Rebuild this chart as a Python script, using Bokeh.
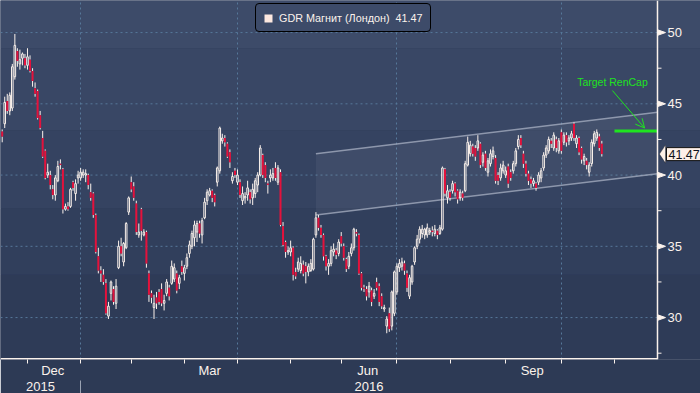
import pandas as pd
from bokeh.plotting import figure
from bokeh.models import (ColumnDataSource, FixedTicker, Range1d, Label, LinearAxis,
                          Legend, LegendItem, Arrow, OpenHead, PolyAnnotation)
from bokeh.embed import file_html
from bokeh.resources import INLINE

# ---------------- data ----------------
first_day = "2015-11-17"
last_day = "2016-11-30"
uk_holidays = ["2015-12-25", "2015-12-28", "2016-01-01", "2016-03-25", "2016-03-28",
               "2016-05-02", "2016-05-30", "2016-08-29"]

opens = [
    43.05, 43.6, 45.2, 44.5, 44.7, 46.9, 48.7, 47.8, 48.2, 48.2,
    47.7, 48.1, 47.3, 46.1, 45.9, 44.2, 42.6, 41.7, 40.0, 40.0,
    39.0, 38.6, 39.6, 40.8, 40.4, 37.6, 37.8, 37.8, 39.5, 38.7,
    39.8, 39.8, 40.0, 40.0, 40.0, 38.8, 38.7, 37.2, 34.3, 33.3,
    33.0, 32.4, 30.1, 31.7, 32.0, 31.0, 33.5, 35.0, 33.9, 34.9,
    37.4, 39.5, 39.2, 38.0, 35.8, 37.6, 35.8, 36.0, 33.1, 31.7,
    30.7, 31.4, 31.8, 32.0, 31.0, 31.7, 32.1, 32.4, 32.7, 33.1,
    32.4, 33.6, 33.1, 33.6, 34.5, 35.0, 35.6, 36.0, 36.6, 35.8,
    37.0, 38.2, 38.6, 38.9, 38.6, 39.5, 40.3, 42.4, 42.6, 42.2,
    41.6, 39.6, 40.3, 39.5, 39.5, 38.2, 38.4, 38.6, 38.8, 38.4,
    38.7, 39.3, 40.0, 41.4, 40.7, 39.4, 39.8, 39.8, 40.5, 39.5,
    40.2, 36.4, 35.3, 34.6, 34.6, 34.9, 33.2, 33.4, 33.3, 33.7,
    33.6, 33.2, 33.3, 33.4, 35.8, 37.0, 36.3, 35.8, 34.3, 33.6,
    33.8, 34.6, 34.7, 34.5, 35.7, 35.0, 34.1, 33.6, 34.5, 34.9,
    36.0, 35.8, 33.1, 32.1, 32.0, 31.8, 31.9, 31.5, 32.5, 32.2,
    31.5, 30.6, 29.4, 30.3, 29.4, 30.3, 31.8, 33.5, 33.6, 33.8,
    33.1, 31.5, 32.5, 33.9, 35.0, 35.5, 35.9, 35.8, 35.8, 36.0,
    36.1, 35.9, 36.1, 35.9, 36.2, 40.4, 38.4, 38.8, 38.9, 39.4,
    38.9, 38.4, 38.7, 38.9, 40.7, 41.5, 42.0, 41.9, 41.9, 42.2,
    40.9, 41.5, 40.2, 40.8, 41.3, 41.2, 40.0, 39.8, 40.3, 40.0,
    40.6, 40.2, 40.3, 40.8, 42.0, 42.6, 41.5, 40.8, 40.1, 39.7,
    39.4, 39.4, 39.5, 39.8, 40.5, 41.4, 41.7, 42.4, 41.9, 42.5,
    41.7, 43.0, 42.3, 42.8, 42.4, 42.6, 43.6, 42.2, 42.6, 41.9,
    41.0, 41.0, 40.2, 40.8, 42.2, 42.6, 42.7, 42.2,
]
closes = [
    42.7, 45.1, 44.5, 45.6, 47.6, 49.1, 48.0, 48.1, 48.5, 47.7,
    48.3, 47.3, 46.6, 45.7, 44.0, 43.3, 41.3, 39.8, 40.2, 39.3,
    38.6, 39.8, 40.6, 40.7, 37.6, 37.8, 37.6, 39.0, 39.1, 39.4,
    40.0, 40.2, 40.2, 40.1, 39.3, 38.4, 37.2, 34.6, 33.3, 33.1,
    32.5, 30.3, 30.8, 32.5, 31.1, 32.2, 35.0, 34.5, 35.2, 36.6,
    38.4, 39.0, 38.4, 36.0, 36.0, 36.1, 36.0, 33.8, 31.6, 31.4,
    31.0, 31.0, 31.1, 31.0, 31.2, 32.5, 31.5, 33.6, 33.5, 31.9,
    32.8, 33.2, 33.5, 34.2, 35.1, 35.9, 36.5, 36.6, 35.9, 36.8,
    38.1, 38.8, 38.9, 38.4, 38.1, 40.5, 43.3, 42.6, 42.3, 41.3,
    40.9, 39.9, 40.0, 40.0, 38.6, 38.7, 38.5, 39.1, 38.3, 39.0,
    39.6, 40.0, 41.9, 40.0, 39.8, 39.3, 40.0, 40.1, 39.8, 40.5,
    36.5, 35.1, 34.6, 34.7, 34.9, 33.0, 32.9, 33.9, 33.8, 33.1,
    33.2, 33.6, 33.8, 35.5, 37.0, 36.3, 35.8, 34.3, 33.6, 33.8,
    34.7, 34.8, 34.4, 35.3, 35.2, 34.2, 33.4, 34.3, 34.9, 36.2,
    35.9, 33.1, 32.1, 32.0, 31.5, 32.2, 31.1, 31.7, 32.1, 31.1,
    30.8, 30.7, 29.9, 29.2, 31.8, 33.2, 33.6, 33.8, 33.9, 33.3,
    32.1, 32.8, 33.6, 34.9, 35.5, 36.2, 36.2, 36.2, 36.3, 36.1,
    36.0, 36.2, 35.8, 36.3, 40.5, 38.7, 38.9, 38.4, 39.4, 38.8,
    38.3, 38.8, 38.4, 40.8, 42.3, 42.1, 41.5, 41.3, 42.4, 40.7,
    41.4, 40.5, 41.0, 41.5, 41.7, 39.6, 39.6, 40.5, 40.7, 40.3,
    39.4, 39.8, 40.8, 41.7, 42.5, 42.1, 40.8, 40.1, 39.6, 39.4,
    39.6, 39.1, 40.0, 40.3, 41.4, 41.9, 42.5, 42.2, 42.8, 41.9,
    42.4, 41.7, 42.8, 42.3, 42.6, 42.9, 42.6, 42.6, 41.6, 41.1,
    41.3, 40.7, 40.7, 42.3, 42.9, 43.0, 41.9, 41.47,
]
highs = [
    43.2, 45.5, 45.7, 45.8, 47.8, 49.9, 48.9, 48.8, 48.6, 48.5,
    48.9, 48.4, 47.5, 46.5, 46.0, 44.5, 43.1, 41.8, 40.8, 40.3,
    39.3, 40.0, 41.0, 41.1, 40.5, 38.0, 38.1, 39.1, 39.6, 39.7,
    40.3, 40.5, 40.4, 40.4, 40.1, 39.4, 38.8, 37.3, 34.9, 33.6,
    33.4, 32.7, 31.1, 32.6, 32.2, 32.7, 35.4, 35.6, 35.3, 36.7,
    38.5, 39.9, 39.5, 38.2, 36.6, 37.7, 36.2, 36.1, 33.3, 31.9,
    31.6, 31.8, 32.0, 32.4, 31.6, 32.7, 32.3, 34.0, 33.8, 33.3,
    33.0, 34.0, 33.7, 34.5, 35.4, 36.1, 36.8, 36.8, 36.8, 37.0,
    38.4, 39.0, 39.1, 39.0, 38.7, 40.6, 43.4, 42.9, 42.8, 42.3,
    41.8, 40.2, 40.5, 40.4, 39.7, 39.2, 38.8, 39.6, 39.0, 39.4,
    39.8, 40.2, 42.1, 41.5, 40.9, 39.6, 40.4, 40.5, 40.9, 40.7,
    40.4, 36.7, 35.4, 35.0, 35.4, 35.0, 33.5, 34.2, 34.3, 34.0,
    33.9, 33.8, 34.1, 35.6, 37.4, 37.2, 36.5, 35.9, 34.4, 34.1,
    35.0, 35.2, 34.9, 35.5, 36.0, 35.2, 34.2, 34.6, 35.2, 36.3,
    36.2, 35.9, 33.2, 32.3, 32.2, 32.5, 32.1, 32.0, 32.8, 32.4,
    31.7, 30.9, 30.1, 30.7, 31.9, 33.3, 33.8, 34.1, 34.2, 34.0,
    33.3, 33.0, 33.7, 35.0, 35.8, 36.4, 36.5, 36.3, 36.6, 36.3,
    36.4, 36.5, 36.2, 36.5, 40.6, 40.5, 39.3, 39.0, 39.6, 39.5,
    39.0, 39.0, 38.9, 41.0, 42.7, 42.4, 42.2, 42.1, 42.8, 42.3,
    41.6, 41.7, 41.2, 41.8, 42.0, 41.4, 40.2, 40.8, 41.0, 40.6,
    40.8, 40.4, 41.0, 41.9, 42.8, 42.8, 41.7, 41.0, 40.3, 39.9,
    39.8, 39.5, 40.2, 40.5, 41.6, 42.1, 42.7, 42.6, 43.0, 42.7,
    42.6, 43.2, 43.0, 43.0, 42.8, 43.1, 43.7, 42.8, 42.7, 42.0,
    41.5, 41.2, 40.9, 42.5, 43.1, 43.2, 42.9, 42.4,
]
lows = [
    42.3, 43.3, 44.3, 44.2, 44.5, 46.7, 47.6, 47.4, 47.7, 47.5,
    47.4, 47.2, 46.2, 45.5, 43.9, 43.2, 41.2, 39.7, 39.8, 39.0,
    38.3, 38.2, 39.5, 40.4, 37.3, 37.5, 37.5, 37.7, 38.9, 38.2,
    39.4, 39.6, 39.8, 39.5, 39.0, 38.2, 37.0, 34.5, 33.1, 32.5,
    32.3, 30.2, 29.9, 31.2, 30.9, 30.6, 33.4, 34.3, 33.6, 34.8,
    37.2, 38.8, 38.2, 35.8, 35.6, 35.4, 35.7, 33.5, 31.1, 31.0,
    29.9, 30.6, 30.9, 30.8, 30.5, 31.5, 31.2, 32.3, 32.5, 31.7,
    32.0, 33.0, 32.6, 33.4, 34.2, 34.8, 35.0, 35.3, 35.6, 35.2,
    36.9, 37.9, 38.5, 38.1, 37.8, 39.2, 40.1, 42.2, 42.0, 41.2,
    40.5, 39.4, 39.8, 39.3, 38.4, 37.9, 38.0, 38.2, 38.0, 37.9,
    38.4, 38.8, 39.9, 39.8, 39.5, 38.7, 39.5, 39.6, 39.6, 39.3,
    36.4, 35.0, 34.2, 34.4, 34.3, 32.6, 32.7, 33.2, 33.1, 32.9,
    32.4, 32.9, 33.2, 33.3, 35.6, 36.1, 35.6, 34.0, 33.3, 33.0,
    33.6, 34.3, 34.1, 34.3, 35.0, 34.0, 33.2, 33.4, 34.3, 34.7,
    35.7, 33.0, 31.9, 31.8, 31.2, 31.4, 30.8, 31.3, 31.9, 30.8,
    30.6, 30.4, 28.9, 29.0, 29.1, 30.1, 31.6, 33.2, 33.3, 33.0,
    31.8, 31.3, 32.3, 33.7, 34.8, 35.2, 35.6, 35.5, 35.6, 35.8,
    35.7, 35.7, 35.5, 35.8, 36.1, 38.5, 38.0, 38.2, 38.7, 38.5,
    38.0, 38.2, 38.2, 38.8, 40.6, 41.3, 41.3, 41.0, 41.7, 40.5,
    40.6, 40.3, 39.9, 40.6, 41.1, 39.4, 39.3, 39.6, 40.1, 39.8,
    39.1, 39.6, 40.1, 40.6, 41.8, 41.9, 40.5, 39.9, 39.3, 39.1,
    39.2, 38.9, 39.3, 39.5, 40.3, 41.2, 41.5, 41.9, 41.7, 41.6,
    41.5, 41.5, 42.1, 42.0, 42.1, 42.4, 42.4, 41.9, 41.4, 40.8,
    40.7, 40.4, 39.9, 40.6, 42.0, 42.4, 41.7, 41.3,
]

series_name = "GDR Магнит (Лондон)"
last_price = 41.47
y_ticks = [30, 35, 40, 45, 50]
y_minor = [27.5, 32.5, 37.5, 42.5, 47.5]
month_labels = ["Dec", "Mar", "Jun", "Sep"]
year_labels = ["2015", "2016"]
target_text = "Target RenCap"
target_price = 43.1
target_from = "2016-11-01"
channel_dates = ["2016-05-17", "2016-11-24"]
channel_upper = [41.5, 44.4]
channel_lower = [37.2, 40.1]

# ---------------- calendar ----------------
days = [d for d in pd.bdate_range(first_day, last_day) if d.strftime("%Y-%m-%d") not in uk_holidays]
idx = {d.strftime("%Y-%m-%d"): k for k, d in enumerate(days)}
month_starts = [k for k in range(1, len(days)) if days[k].month != days[k - 1].month]
quarter_starts = [k for k in month_starts if days[k].month in (1, 4, 7, 10)]

PX = 2.53                      # pixels per trading day
X0, X1, XR = -0.67, 259.0, 276.0   # left edge, price-axis position, right edge
PY = 14.25                     # pixels per price unit
Y1 = 52.25
FRAME_H = 359
Y0 = Y1 - FRAME_H / PY

BG_BANDS = ["#3d4b69", "#394765", "#354361", "#313f5c", "#2e3b57"]
BAND_EDGES = [Y1 + 1, 48.9, 43.12, 37.65, 33.0, Y0 - 1]
WHITE = "#fbf2ec"
RED = "#e3123c"
GREEN = "#1fe41f"
GRID = "#56789a"
FONT = "Liberation Sans"

p = figure(width=700, height=393, x_range=Range1d(X0, XR), y_range=Range1d(Y0, Y1),
           y_axis_location=None, toolbar_location=None, output_backend="svg",
           min_border_left=0, min_border_right=0, min_border_top=0,
           min_border_bottom=393 - FRAME_H)
p.border_fill_color = "#2d3a55"
p.background_fill_color = BG_BANDS[-1]
p.outline_line_color = None

# background bands
for i, col in enumerate(BG_BANDS):
    p.quad(left=X0 - 5, right=XR + 5, top=BAND_EDGES[i], bottom=BAND_EDGES[i + 1],
           fill_color=col, line_color=None, level="image")

# grids
for g in p.ygrid:
    g.visible = False
p.xgrid.ticker = FixedTicker(ticks=quarter_starts)
p.xgrid.grid_line_color = GRID
p.xgrid.grid_line_dash = "2 3"
p.xgrid.grid_line_width = 1
p.segment(x0=[X0] * len(y_ticks), y0=y_ticks, x1=[X1] * len(y_ticks), y1=y_ticks,
          line_color=GRID, line_dash="2 3", line_width=1)

# channel
cx = [idx[d] for d in channel_dates]
p.patch(x=[cx[0], cx[1], cx[1], cx[0]],
        y=[channel_upper[0], channel_upper[1], channel_lower[1], channel_lower[0]],
        fill_color="#ffffff", fill_alpha=0.05, line_color=None)
p.line([cx[0], X1], channel_upper, line_color="#aab2c4", line_alpha=0.75, line_width=1.5)
p.line([cx[0], X1], channel_lower, line_color="#aab2c4", line_alpha=0.75, line_width=1.5)

# candles
n = len(closes)
xs = list(range(n))
top_b = [max(o, c) for o, c in zip(opens, closes)]
bot_b = [min(o, c) for o, c in zip(opens, closes)]
p.segment(x0=xs, y0=top_b, x1=xs, y1=highs, line_color=WHITE, line_width=1)
p.segment(x0=xs, y0=lows, x1=xs, y1=bot_b, line_color=WHITE, line_width=1)
up = [c >= o for o, c in zip(opens, closes)]
up_src = ColumnDataSource(dict(x=[x for x, u in zip(xs, up) if u],
                               top=[t for t, u in zip(top_b, up) if u],
                               bottom=[b for b, u in zip(bot_b, up) if u]))
dn_src = ColumnDataSource(dict(x=[x for x, u in zip(xs, up) if not u],
                               top=[t for t, u in zip(top_b, up) if not u],
                               bottom=[b for b, u in zip(bot_b, up) if not u]))
p.vbar(x="x", top="top", bottom="bottom", width=0.62, source=up_src,
       fill_alpha=0, line_color=WHITE, line_width=1)
p.vbar(x="x", top="top", bottom="bottom", width=0.8, source=dn_src,
       fill_color=RED, line_color=None)

# target
tx0 = idx[target_from]
p.segment(x0=[tx0], y0=[target_price], x1=[X1], y1=[target_price], line_color=GREEN, line_width=3)
p.add_layout(Arrow(end=OpenHead(size=9, line_color=GREEN, line_width=1),
                   x_start=241.2, y_start=45.93, x_end=253.9, y_end=43.3,
                   line_color=GREEN, line_width=1))
p.add_layout(Label(x=241.2, y=46.5, text=target_text, text_align="center", text_baseline="middle",
                   text_color=GREEN, text_font=FONT, text_font_size="10.5px"))

# price axis (drawn at X1, inside the canvas)
p.segment(x0=[X1], y0=[Y0], x1=[X1], y1=[Y1], line_color=WHITE, line_width=1.5)
p.segment(x0=[X1] * len(y_minor), y0=y_minor, x1=[X1 + 4 / PX] * len(y_minor), y1=y_minor,
          line_color=WHITE, line_width=1)
p.patches(xs=[[X1, X1 + 8 / PX, X1] for _ in y_ticks],
          ys=[[v + 2.8 / PY, v, v - 2.8 / PY] for v in y_ticks],
          fill_color=WHITE, line_color=WHITE, line_width=1)
for v in y_ticks:
    p.add_layout(Label(x=X1 + 10 / PX, y=v, text=str(v), text_align="left", text_baseline="middle",
                       text_color=WHITE, text_font=FONT, text_font_size="13px"))

# last-price tag
p.add_layout(PolyAnnotation(xs=[X1 + 2 / PX, X1 + 8 / PX, X1 + 8 / PX],
                            ys=[last_price, last_price + 9 / PY, last_price - 9 / PY],
                            fill_color="#fdf0e8", fill_alpha=1, line_color="#111111", line_width=1))
p.add_layout(Label(x=X1 + 9 / PX, y=last_price, text=f"{last_price:.2f}", text_align="left",
                   text_baseline="middle", text_color="#10131c", text_font=FONT,
                   text_font_size="12.5px", background_fill_color="#fdf0e8",
                   border_line_color="#111111", padding=2))

# time axis line (stops at the price axis)
p.segment(x0=[X0], y0=[Y0 + 0.6 / PY], x1=[X1], y1=[Y0 + 0.6 / PY], line_color=WHITE, line_width=1.6)


def key(v):
    v = round(v, 2)
    return int(v) if float(v).is_integer() else v


# month axis: minor ticks at month starts, labels centred in the month
mids = []
for name in month_labels:
    ks = next(k for k in month_starts if days[k].strftime("%b") == name)
    ke = next(k for k in month_starts if k > ks)
    mids.append(key((ks + ke - 1) / 2))
bx = p.xaxis[0]
bx.ticker = FixedTicker(ticks=mids, minor_ticks=month_starts)
bx.major_label_overrides = {m: name for m, name in zip(mids, month_labels)}
bx.axis_line_color = None
bx.major_tick_line_color = None
bx.major_tick_out = 0
bx.major_tick_in = 0
bx.minor_tick_line_color = WHITE
bx.minor_tick_out = 4
bx.minor_tick_in = 0
bx.major_label_text_color = WHITE
bx.major_label_text_font = FONT
bx.major_label_text_font_size = "13px"
bx.major_label_standoff = -1

# year axis
year_break = next(k for k in month_starts if days[k].month == 1)
ycent = [key((X0 + year_break) / 2), key((year_break + X1) / 2)]
yax = LinearAxis(ticker=FixedTicker(ticks=ycent, minor_ticks=[year_break]))
yax.major_label_overrides = {c: name for c, name in zip(ycent, year_labels)}
yax.axis_line_color = None
yax.major_tick_line_color = None
yax.major_tick_out = 0
yax.major_tick_in = 0
yax.minor_tick_line_color = "#9aa3b3"
yax.minor_tick_out = 18
yax.minor_tick_in = 0
yax.major_label_text_color = WHITE
yax.major_label_text_font = FONT
yax.major_label_text_font_size = "13px"
yax.major_label_standoff = -17
p.add_layout(yax, "below")

# legend (its swatch renderer sits, zero-sized, on the last candle)
leg_r = p.quad(left=[xs[-1]], right=[xs[-1]], top=[closes[-1]], bottom=[closes[-1]],
               fill_color="#fde8e0", line_color=None)
legend = Legend(items=[LegendItem(label=f"{series_name}  {last_price:.2f}", renderers=[leg_r])],
                location=(255, FRAME_H - 32), label_text_color=WHITE, label_text_font=FONT,
                label_text_font_size="10.8px", background_fill_color=BG_BANDS[0],
                background_fill_alpha=1, border_line_color="#000000", border_line_alpha=1,
                border_line_width=1, border_radius=4, padding=7, margin=0, glyph_width=10,
                glyph_height=10, label_height=13, label_standoff=6)
p.add_layout(legend)

open("out.html", "w").write(file_html(p, INLINE))
